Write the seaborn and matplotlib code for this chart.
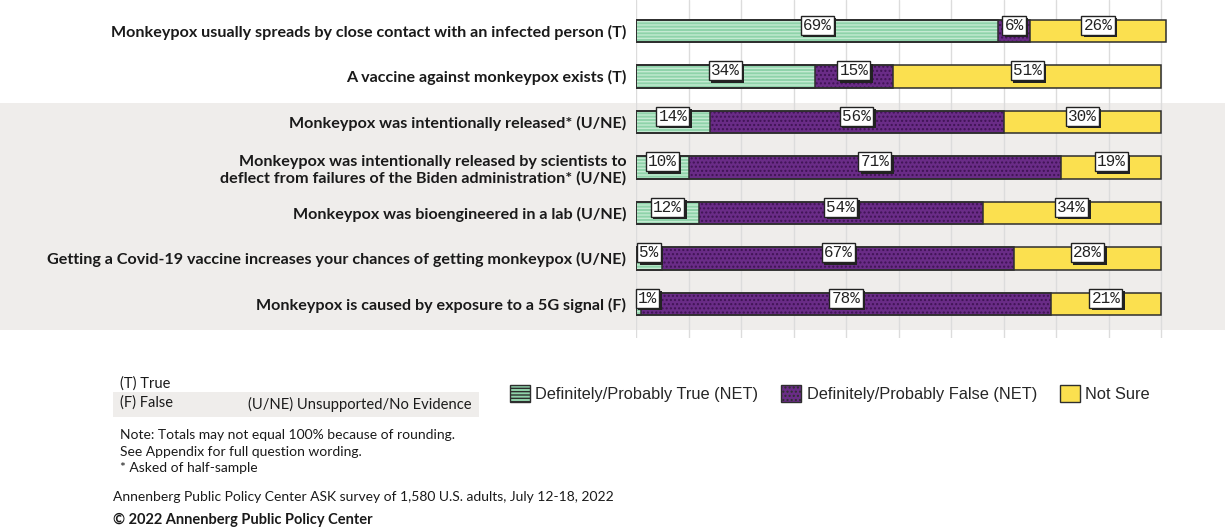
import pandas as pd
import numpy as np
import matplotlib
matplotlib.use("Agg")
import matplotlib.pyplot as plt
import matplotlib.patheffects as pe
from matplotlib.patches import Rectangle, Patch
import seaborn as sns

# --- Data ---
statements = [
    "Monkeypox usually spreads by close contact with an infected person (T)",
    "A vaccine against monkeypox exists (T)",
    "Monkeypox was intentionally released* (U/NE)",
    "Monkeypox was intentionally released by scientists to\ndeflect from failures of the Biden administration* (U/NE)",
    "Monkeypox was bioengineered in a lab (U/NE)",
    "Getting a Covid-19 vaccine increases your chances of getting monkeypox (U/NE)",
    "Monkeypox is caused by exposure to a 5G signal (F)",
]
true_net = [69, 34, 14, 10, 12, 5, 1]
false_net = [6, 15, 56, 71, 54, 67, 78]
not_sure = [26, 51, 30, 19, 34, 28, 21]

series_names = ["Definitely/Probably True (NET)", "Definitely/Probably False (NET)", "Not Sure"]
fill_colors = ["#8fd3aa", "#6a2c87", "#fbe04f"]
hatch_colors = ["#c4ead2", "#3f1354", "#fbe04f"]
hatches = ["-----", "....", ""]

df = pd.DataFrame({"statement": statements, "true": true_net,
                   "false": false_net, "unsure": not_sure})
df["c1"] = df["true"]
df["c2"] = df["true"] + df["false"]
df["c3"] = df["c2"] + df["unsure"]

sns.set_style("white")
plt.rcParams["font.family"] = ["Lato", "DejaVu Sans"]
plt.rcParams["hatch.linewidth"] = 1.0

W, H = 1225, 529
fig = plt.figure(figsize=(W / 100, H / 100), dpi=100)
px = 5.25  # pixels per percent
ax = fig.add_axes([636 / W, 1 - 338 / H, (W - 636) / W, 338 / H])
ax.set_facecolor("none")

# gray band behind unsupported claims
fig.add_artist(Rectangle((0, 1 - 330 / H), 1, (330 - 103) / H, transform=fig.transFigure,
                         facecolor="#efedeb", edgecolor="none", zorder=-5))

# stacked bars: draw cumulative widths from largest to smallest
for col, fc, hc, hp in zip(["c3", "c2", "c1"], fill_colors[::-1], hatch_colors[::-1], hatches[::-1]):
    n0 = len(ax.patches)
    sns.barplot(data=df, y="statement", x=col, orient="h", color=fc, width=0.5, ax=ax)
    for p in ax.patches[n0:]:
        p.set_facecolor(fc)
        p.set_hatch(hp)
        p.set_edgecolor(hc)
        p.set_linewidth(0)
        p.set_zorder(3)
        outline = Rectangle(p.get_xy(), p.get_width(), p.get_height(), facecolor="none",
                            edgecolor="#2e2e2e", linewidth=1.1, zorder=3.5)
        ax.add_patch(outline)

# value labels with drop shadow
segs = [df["true"], df["false"], df["unsure"]]
starts = [np.zeros(len(df)), df["c1"].values, df["c2"].values]
for seg, st in zip(segs, starts):
    for i, (v, s) in enumerate(zip(seg, st)):
        xc = max(s + v / 2, 2.2)
        t = ax.annotate(f"{v}%", (xc, i), xytext=(0, 4), textcoords="offset points",
                        ha="center", va="center", fontsize=11.5, family="Liberation Mono",
                        color="#222222",
                        bbox=dict(boxstyle="square,pad=0.13", facecolor="white",
                                  edgecolor="#222222", linewidth=1.0),
                        zorder=6)
        t.get_bbox_patch().set_path_effects(
            [pe.withSimplePatchShadow(offset=(1.8, -1.8), shadow_rgbFace="#222222", alpha=1.0)])

ax.set_xlim(0, (W - 636) / px)
ax.set_ylim(6.75, -0.68)
ax.set_xticks(range(0, 101, 10))
ax.set_xticklabels([])
ax.xaxis.grid(True, color="#dcdcdc", linewidth=1.0, zorder=0)
ax.set_axisbelow(True)
ax.set_xlabel("")
ax.set_ylabel("")
ax.tick_params(axis="both", length=0)
ax.tick_params(axis="y", pad=7)
for lbl in ax.get_yticklabels():
    lbl.set_fontweight("bold")
    lbl.set_fontsize(11.65)
    lbl.set_color("#1a1a1a")
    lbl.set_multialignment("right")
sns.despine(ax=ax, left=True, bottom=True)

# legend
handles = [Patch(facecolor=fc, edgecolor="#2e2e2e", hatch=hp, linewidth=1.0)
           for fc, hp in zip(fill_colors, hatches)]
fig.legend(handles, series_names, loc="upper left", bbox_to_anchor=(510 / W, 1 - 385 / H),
           ncol=3, frameon=False, handlelength=1.2, handleheight=1.2,
           handletextpad=0.35, columnspacing=1.4, borderpad=0, borderaxespad=0,
           prop={"family": "Liberation Sans", "size": 11.8})

# notes
fig.add_artist(Rectangle((113 / W, 1 - 417 / H), (479 - 113) / W, 25 / H, transform=fig.transFigure,
                         facecolor="#efedeb", edgecolor="none", zorder=-5))
fig.text(120 / W, 1 - 384 / H, "(T) True", fontsize=10.5, va="center", color="#1a1a1a")
fig.text(120 / W, 1 - 403 / H, "(F) False", fontsize=10.5, va="center", color="#1a1a1a")
fig.text(248 / W, 1 - 404 / H, "(U/NE) Unsupported/No Evidence", fontsize=10.6, va="center", color="#1a1a1a")
notes = ["Note: Totals may not equal 100% because of rounding.",
         "See Appendix for full question wording.",
         "* Asked of half-sample"]
for k, t in enumerate(notes):
    fig.text(120 / W, 1 - (435 + 16.5 * k) / H, t, fontsize=10, va="center", color="#1a1a1a")
fig.text(113 / W, 1 - 497 / H, "Annenberg Public Policy Center ASK survey of 1,580 U.S. adults, July 12-18, 2022",
         fontsize=10, va="center", color="#1a1a1a")
fig.text(113 / W, 1 - 520 / H, "© 2022 Annenberg Public Policy Center", fontsize=10.5,
         fontweight="bold", va="center", color="#1a1a1a")

fig.savefig("out.png", dpi=100, facecolor="white")
